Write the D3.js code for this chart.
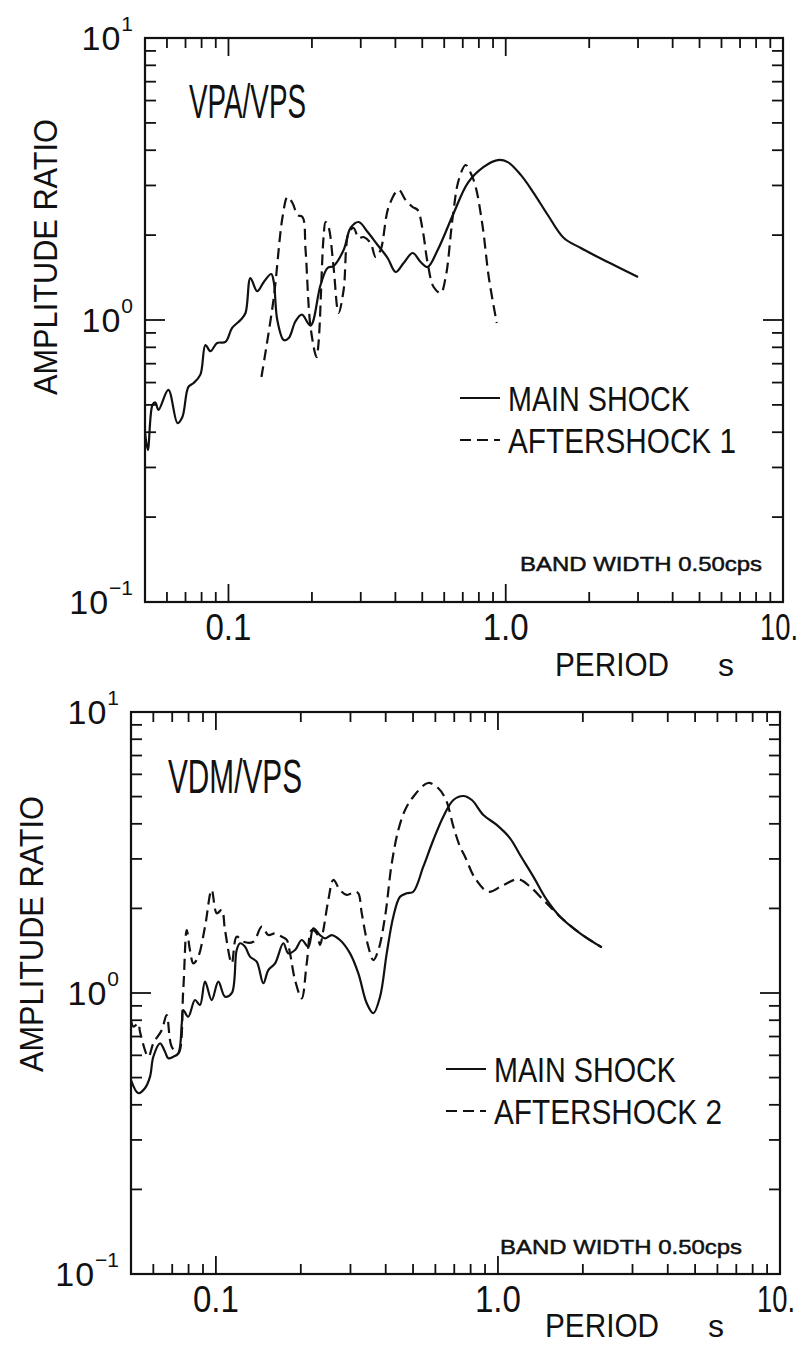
<!DOCTYPE html>
<html>
<head>
<meta charset="utf-8">
<script src="https://cdn.jsdelivr.net/npm/d3@7"></script>
<style>
  body { margin: 0; background: #fff; }
  svg text { font-family: "Liberation Sans", Arial, sans-serif; fill: #111; }
</style>
</head>
<body>
<svg id="chart" width="812" height="1348"></svg>
<script>
// ---- data ----
const xTickValues = [0.1, 1, 10];
const xTickLabels = ["0.1", "1.0", "10."];
const yTickExponents = [-1, 0, 1];

// VPA/VPS
const periodMain1 = [0.050, 0.0512, 0.0532, 0.0545, 0.0559, 0.0607, 0.0655, 0.0682, 0.0717, 0.0749,
  0.0792, 0.0826, 0.0861, 0.091, 0.0975, 0.1031, 0.1105, 0.1152, 0.120, 0.1269,
  0.1341, 0.1426, 0.1457, 0.150, 0.1583, 0.165, 0.1745, 0.184, 0.1977, 0.2148,
  0.2277, 0.2393, 0.2602, 0.2757, 0.2947, 0.3177, 0.3451, 0.375, 0.4008, 0.4283,
  0.4617, 0.4932, 0.5228, 0.5683, 0.6493, 0.7294, 0.8329, 0.9357, 1.017, 1.133,
  1.262, 1.418, 1.62, 1.866, 2.148, 2.454, 3.0];
const ratioMain1 = [0.40, 0.346, 0.50, 0.51, 0.48, 0.565, 0.431, 0.453, 0.579, 0.598,
  0.640, 0.815, 0.775, 0.829, 0.836, 0.937, 1.0, 1.059, 1.409, 1.265,
  1.364, 1.456, 1.364, 1.0, 0.849, 0.863, 0.99, 1.045, 0.955, 1.331,
  1.529, 1.554, 1.771, 2.120, 2.226, 2.051, 1.845, 1.659, 1.480, 1.593,
  1.728, 1.606, 1.542, 1.771, 2.395, 3.06, 3.49, 3.69, 3.63, 3.27,
  2.82, 2.357, 1.953, 1.80, 1.673, 1.567, 1.42];

const periodAfter1 = [0.1315, 0.1453, 0.1567, 0.1633, 0.1702, 0.1775, 0.1850, 0.1897, 0.1977, 0.2078,
  0.2113, 0.2203, 0.224, 0.2296, 0.2393, 0.2495, 0.2602, 0.2713, 0.2827, 0.2947,
  0.3072, 0.3255, 0.3394, 0.3538, 0.3781, 0.4109, 0.4355, 0.4617, 0.4813, 0.5017,
  0.5228, 0.5496, 0.5827, 0.6074, 0.6439, 0.6767, 0.717, 0.7475, 0.7794, 0.826,
  0.8685, 0.9281];
const ratioAfter1 = [0.628, 1.177, 2.318, 2.731, 2.60, 2.357, 2.318, 1.771, 0.944, 0.739,
  0.829, 1.969, 2.226, 2.137, 1.542, 1.059, 1.278, 2.035, 2.12, 1.953,
  1.969, 1.875, 1.673, 1.771, 2.516, 2.891, 2.664, 2.516, 2.455, 2.085,
  1.593, 1.309, 1.247, 1.42, 2.318, 3.137, 3.545, 3.321, 2.962, 2.137,
  1.42, 0.976];

// VDM/VPS
const periodMain2 = [0.050, 0.0531, 0.0561, 0.0584, 0.0600, 0.0634, 0.0660, 0.0678, 0.0706, 0.0736,
  0.0757, 0.0766, 0.0798, 0.0843, 0.0878, 0.0915, 0.0966, 0.1020, 0.1077, 0.1138,
  0.1185, 0.1218, 0.1269, 0.1321, 0.1395, 0.1473, 0.1534, 0.1621, 0.1734, 0.1806,
  0.1908, 0.2015, 0.2127, 0.2216, 0.2339, 0.2437, 0.2574, 0.2754, 0.2989, 0.3199,
  0.3426, 0.3616, 0.382, 0.4033, 0.4256, 0.4496, 0.4751, 0.501, 0.5437, 0.590,
  0.640, 0.695, 0.754, 0.808, 0.888, 0.990, 1.104, 1.198, 1.335, 1.490,
  1.661, 1.955, 2.334];
const ratioMain2 = [0.490, 0.440, 0.459, 0.504, 0.593, 0.662, 0.618, 0.586, 0.593, 0.610,
  0.780, 0.870, 0.823, 0.944, 0.906, 1.097, 0.944, 1.097, 0.970, 0.998,
  1.422, 1.503, 1.461, 1.347, 1.292, 1.083, 1.207, 1.275, 1.503, 1.384,
  1.422, 1.544, 1.461, 1.699, 1.608, 1.565, 1.608, 1.544, 1.384, 1.175,
  0.919, 0.847, 0.970, 1.384, 1.868, 2.201, 2.263, 2.293, 2.815, 3.504,
  4.241, 4.862, 5.024, 4.862, 4.30, 3.963, 3.552, 3.098, 2.594, 2.143,
  1.868, 1.631, 1.454];

const periodAfter2 = [0.050, 0.0510, 0.0531, 0.0538, 0.0576, 0.0600, 0.0643, 0.0669, 0.0697, 0.0736,
  0.0766, 0.0788, 0.0809, 0.0832, 0.0866, 0.0915, 0.0966, 0.1007, 0.1049, 0.1077,
  0.1138, 0.1185, 0.1251, 0.1357, 0.1454, 0.1534, 0.1621, 0.1712, 0.1783, 0.1831,
  0.1908, 0.2015, 0.2099, 0.2187, 0.2278, 0.2339, 0.2404, 0.2504, 0.2609, 0.2754,
  0.2910, 0.3113, 0.3199, 0.3290, 0.3471, 0.3616, 0.3767, 0.3978, 0.4202, 0.4434,
  0.4685, 0.501, 0.5651, 0.6133, 0.6546, 0.695, 0.7338, 0.7646, 0.8296, 0.9247,
  1.045, 1.181, 1.300, 1.449, 1.530, 1.661, 1.955, 2.334];
const ratioAfter2 = [0.802, 0.759, 0.780, 0.728, 0.593, 0.662, 0.739, 0.835, 0.644, 0.610,
  1.025, 1.676, 1.422, 1.275, 1.347, 1.722, 2.326, 1.921, 1.974, 1.676,
  1.275, 1.586, 1.522, 1.522, 1.722, 1.608, 1.631, 1.586, 1.544, 1.384,
  1.112, 0.957, 1.275, 1.676, 1.631, 1.482, 1.676, 2.143, 2.525, 2.326,
  2.233, 2.293, 2.263, 1.921, 1.461, 1.310, 1.422, 1.868, 2.894, 3.802,
  4.479, 4.995, 5.59, 5.365, 4.862, 3.907, 3.316, 3.055, 2.560, 2.293,
  2.423, 2.539, 2.389, 2.143, 2.028, 1.868, 1.631, 1.454];

const zip = (xs, ys) => xs.map((x, i) => ({ period: x, ratio: ys[i] }));

class LogPanel {

  constructor(_config, _series) {
    this.config = _config;
    this.series = _series;
    this.initVis();
  }

  initVis() {
    let vis = this;
    const c = vis.config;

    vis.xScale = d3.scaleLog().domain([0.05, 10]).range([c.left, c.right]);
    vis.yScale = d3.scaleLog().domain([0.1, 10]).range([c.bottom, c.top]);

    vis.g = d3.select('#chart').append('g');

    // minor + major tick values (decades get the long ticks)
    const xTicks = [0.06, 0.07, 0.08, 0.09, 0.1, 0.2, 0.3, 0.4, 0.5, 0.6, 0.7, 0.8, 0.9, 1,
      2, 3, 4, 5, 6, 7, 8, 9];
    const yTicks = [0.2, 0.3, 0.4, 0.5, 0.6, 0.7, 0.8, 0.9, 1, 2, 3, 4, 5, 6, 7, 8, 9];
    const isMajor = v => Math.abs(Math.log10(v) - Math.round(Math.log10(v))) < 1e-6;

    // inward ticks on all four sides
    const tick = vis.g.append('g').attr('stroke', '#111').attr('stroke-width', 1.8);
    xTicks.forEach(v => {
      const x = vis.xScale(v), len = isMajor(v) ? 18 : 10;
      tick.append('line').attr('x1', x).attr('x2', x).attr('y1', c.bottom).attr('y2', c.bottom - len);
      tick.append('line').attr('x1', x).attr('x2', x).attr('y1', c.top).attr('y2', c.top + len);
    });
    yTicks.forEach(v => {
      const y = vis.yScale(v), len = isMajor(v) ? 20 : 11;
      tick.append('line').attr('x1', c.left).attr('x2', c.left + len).attr('y1', y).attr('y2', y);
      tick.append('line').attr('x1', c.right).attr('x2', c.right - len).attr('y1', y).attr('y2', y);
    });

    // frame
    vis.g.append('rect')
      .attr('x', c.left).attr('y', c.top)
      .attr('width', c.right - c.left).attr('height', c.bottom - c.top)
      .attr('fill', 'none').attr('stroke', '#111').attr('stroke-width', 2.2);

    // x tick labels ("10." is nudged inside the page edge)
    vis.g.selectAll('.xlab').data(xTickValues).join('text')
      .attr('class', 'xlab')
      .attr('x', (d, i) => vis.xScale(d) - (i === 2 ? 4 : 0))
      .attr('y', c.bottom + 38)
      .attr('text-anchor', 'middle')
      .attr('font-size', 36)
      .attr('textLength', (d, i) => i === 2 ? 38 : 46).attr('lengthAdjust', 'spacingAndGlyphs')
      .text((d, i) => xTickLabels[i]);

    // y tick labels 10^n
    yTickExponents.forEach(e => {
      const t = vis.g.append('text')
        .attr('x', c.left - 12)
        .attr('y', vis.yScale(Math.pow(10, e)) + 12)
        .attr('text-anchor', 'end')
        .attr('font-size', 34);
      t.append('tspan').attr('letter-spacing', 1).text('10');
      t.append('tspan').attr('dy', -19).attr('font-size', 21).text(e < 0 ? '\u2212' + Math.abs(e) : e);
    });

    // axis titles
    vis.g.append('text')
      .attr('transform', `translate(${c.yTitleX},${c.yTitleY}) rotate(-90)`)
      .attr('text-anchor', 'middle')
      .attr('font-size', 34)
      .attr('textLength', 276).attr('lengthAdjust', 'spacingAndGlyphs')
      .text('AMPLITUDE  RATIO');

    vis.g.append('text')
      .attr('x', c.periodX).attr('y', c.periodY)
      .attr('font-size', 34)
      .attr('textLength', 114).attr('lengthAdjust', 'spacingAndGlyphs')
      .text('PERIOD');
    vis.g.append('text')
      .attr('x', c.periodX + 163).attr('y', c.periodY)
      .attr('font-size', 32)
      .text('s');

    // panel title
    vis.g.append('text')
      .attr('x', c.titleX).attr('y', c.titleY)
      .attr('font-size', 48)
      .attr('textLength', c.titleW).attr('lengthAdjust', 'spacingAndGlyphs')
      .text(c.title);

    // legend
    const lg = vis.g.append('g');
    [['MAIN SHOCK', null, 182], [c.afterLabel, '11,6', 228]].forEach((row, i) => {
      const y = c.legendY + i * 42;
      lg.append('line')
        .attr('x1', c.legendX).attr('x2', c.legendX + 40)
        .attr('y1', y).attr('y2', y)
        .attr('stroke', '#111').attr('stroke-width', 2)
        .attr('stroke-dasharray', row[1]);
      lg.append('text')
        .attr('x', c.legendX + 48).attr('y', y + 13)
        .attr('font-size', 35)
        .attr('textLength', row[2]).attr('lengthAdjust', 'spacingAndGlyphs')
        .text(row[0]);
    });

    vis.g.append('text')
      .attr('x', c.bandX).attr('y', c.bandY)
      .attr('font-size', 21)
      .attr('stroke', '#111').attr('stroke-width', 0.5)
      .attr('textLength', 242).attr('lengthAdjust', 'spacingAndGlyphs')
      .text('BAND  WIDTH 0.50cps');

    vis.renderVis();
  }

  renderVis() {
    let vis = this;

    vis.line = d3.line()
      .x(d => vis.xScale(d.period))
      .y(d => vis.yScale(d.ratio))
      .curve(d3.curveCatmullRom.alpha(0.5));

    vis.g.selectAll('.curve').data(vis.series).join('path')
      .attr('class', 'curve')
      .attr('fill', 'none')
      .attr('stroke', '#111')
      .attr('stroke-width', 2.2)
      .attr('stroke-linejoin', 'round')
      .attr('stroke-dasharray', d => d.dash)
      .attr('d', d => vis.line(d.values));
  }
}

new LogPanel({
  left: 145, right: 783, top: 38, bottom: 602,
  title: 'VPA/VPS', titleX: 189, titleY: 118, titleW: 117,
  afterLabel: 'AFTERSHOCK 1',
  legendX: 460, legendY: 398,
  bandX: 520, bandY: 571,
  yTitleX: 57, yTitleY: 257,
  periodX: 555, periodY: 676
}, [
  { values: zip(periodMain1, ratioMain1), dash: null },
  { values: zip(periodAfter1, ratioAfter1), dash: '11,6' }
]);

new LogPanel({
  left: 131, right: 780, top: 712, bottom: 1274,
  title: 'VDM/VPS', titleX: 168, titleY: 793, titleW: 134,
  afterLabel: 'AFTERSHOCK 2',
  legendX: 446, legendY: 1069,
  bandX: 500, bandY: 1254,
  yTitleX: 43, yTitleY: 934,
  periodX: 545, periodY: 1337
}, [
  { values: zip(periodMain2, ratioMain2), dash: null },
  { values: zip(periodAfter2, ratioAfter2), dash: '11,6' }
]);
</script>
</body>
</html>
